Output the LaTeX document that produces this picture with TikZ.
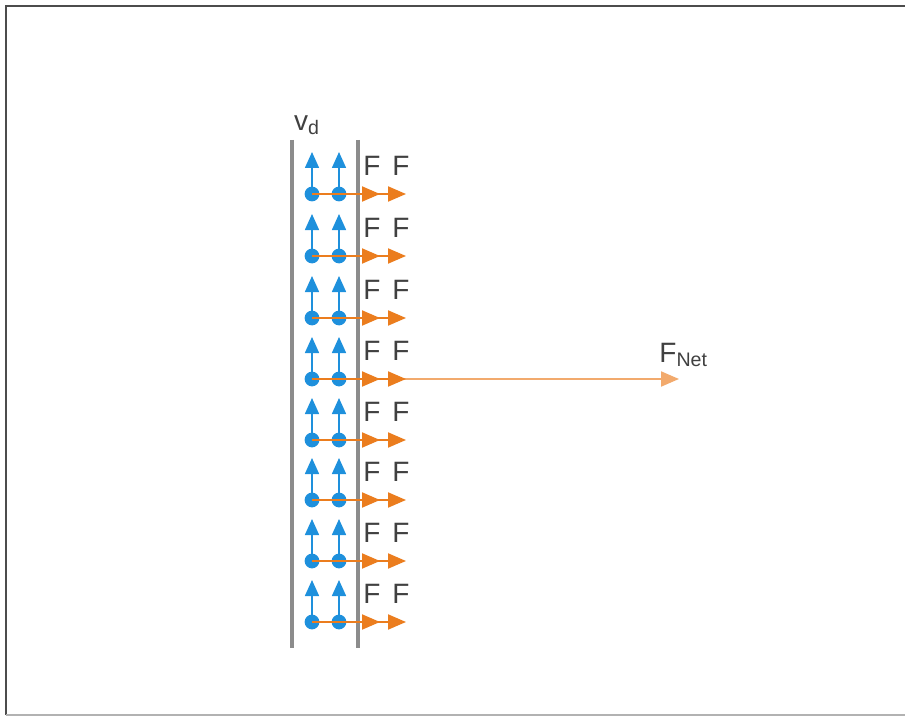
\documentclass[tikz,border=0pt]{standalone}
\usepackage{fontspec}
\setmainfont{Liberation Sans}
\usetikzlibrary{positioning,arrows.meta}
\definecolor{VBlue}{HTML}{1E90DC}
\definecolor{FOrange}{HTML}{EB7D1E}
\definecolor{WireGray}{HTML}{8C8C8C}

\begin{document}
\begin{tikzpicture}[
  x=0.5pt, y=-0.5pt,
  wire/.style={draw=WireGray, line width=1.6pt},
  charge/.style={circle, fill=VBlue, inner sep=0pt, minimum size=7.4pt},
  vel/.style={-{Triangle[length=8pt, width=7pt]}, draw=VBlue, fill=VBlue, line width=0.8pt},
  force/.style={-{Triangle[length=9pt, width=7.5pt]}, draw=FOrange, fill=FOrange, line width=1pt},
  net/.style={-{Triangle[length=9pt, width=7.5pt]}, draw=FOrange!65, fill=FOrange, line width=1pt},
  lbl/.style={font=\fontsize{14}{14}\selectfont, text=black!75, inner sep=0pt}
]
\useasboundingbox (0,0) rectangle (905,717);
% frame
\draw[black!70, line width=1.2pt] (6,715) -- (6,6) -- (905,6);
\draw[black!30, line width=1pt] (6,715) -- (905,715);

% wire edges
\coordinate (wl1) at (292,140);
\coordinate (wl2) at (292,648);
\coordinate (wr1) at (358,140);
\coordinate (wr2) at (358,648);
\draw[wire] (wl1) -- (wl2);
\draw[wire] (wr1) -- (wr2);
\node[lbl] (vd) at (307,125) {v\textsubscript{d}};

% net force
\coordinate (fnet) at (679,379);
\draw[net] (339,379) -- (fnet);
\node[lbl, above right=6pt and -10pt of fnet] (fnetlbl) {F\textsubscript{Net}};

% charges
\foreach \y [count=\i] in {194,256,318,379,440,500,561,622} {
  \node[charge] (a\i) at (312,\y) {};
  \node[charge] (b\i) at (339,\y) {};
  \coordinate (ua\i) at (312,\y-42);
  \coordinate (ub\i) at (339,\y-42);
  \coordinate (fa\i) at (380,\y);
  \coordinate (fb\i) at (406,\y);
  \draw[vel] (a\i.center) -- (ua\i);
  \draw[vel] (b\i.center) -- (ub\i);
  \draw[force] (a\i.center) -- (fa\i);
  \draw[force] (b\i.center) -- (fb\i);
  \node[lbl] (la\i) at (372,\y-28) {F};
  \node[lbl] (lb\i) at (401,\y-28) {F};
}
\end{tikzpicture}
\end{document}
